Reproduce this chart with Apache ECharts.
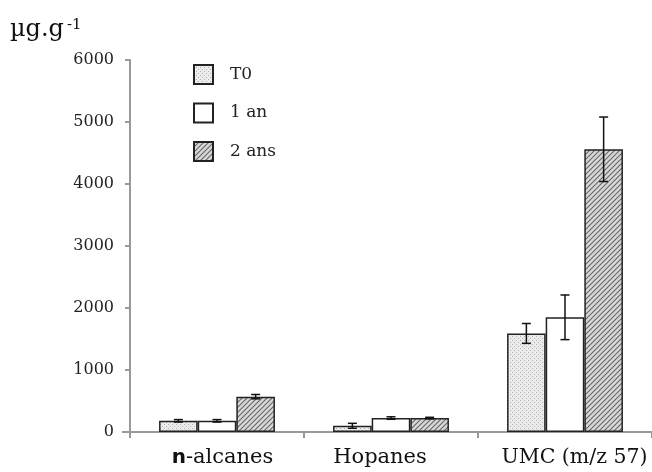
<!DOCTYPE html>
<html><head><meta charset="utf-8">
<script src="https://cdn.jsdelivr.net/npm/echarts@6/dist/echarts.min.js"></script>
<style>html,body{margin:0;padding:0;background:#fff}#c{width:652px;height:472px}</style>
</head><body><div id="c"></div>
<script>
var categories = ['n-alcanes', 'Hopanes', 'UMC (m/z 57)'];
var seriesNames = ['T0', '1 an', '2 ans'];
var valuesT0 = [180, 100, 1590];
var values1an = [180, 225, 1850];
var values2ans = [570, 225, 4560];
var errT0 = [20, 40, 160];
var err1an = [20, 20, 360];
var err2ans = [35, 12, 520];
var yTicks = [0, 1000, 2000, 3000, 4000, 5000, 6000];

function dotPattern() {
  var c = document.createElement('canvas'); c.width = 4; c.height = 4;
  var g = c.getContext('2d');
  g.fillStyle = '#ececec'; g.fillRect(0, 0, 4, 4);
  g.fillStyle = '#b0b0b0'; g.fillRect(0, 0, 1, 1); g.fillRect(2, 2, 1, 1);
  return c;
}
function hatchPattern() {
  var s = 5;
  var c = document.createElement('canvas'); c.width = s; c.height = s;
  var g = c.getContext('2d');
  g.fillStyle = '#d8d8d8'; g.fillRect(0, 0, s, s);
  g.strokeStyle = '#666'; g.lineWidth = 1.1;
  g.beginPath();
  g.moveTo(0, s); g.lineTo(s, 0);
  g.moveTo(-1, 1); g.lineTo(1, -1);
  g.moveTo(s - 1, s + 1); g.lineTo(s + 1, s - 1);
  g.stroke();
  return c;
}
var colors = [
  { image: dotPattern(), repeat: 'repeat' },
  '#ffffff',
  { image: hatchPattern(), repeat: 'repeat' }
];
var vals = [valuesT0, values1an, values2ans];
var errs = [errT0, err1an, err2ans];
var BW = 0.222;
var font = 'DejaVu Serif';

var series = [];
seriesNames.forEach(function (n, i) {
  series.push({
    name: n, type: 'bar', data: vals[i], barWidth: (BW * 100) + '%', barGap: '0%',
    itemStyle: { color: colors[i], borderColor: '#222', borderWidth: 1.5 }
  });
});
seriesNames.forEach(function (n, i) {
  series.push({
    type: 'custom', silent: true, z: 10,
    data: vals[i].map(function (v, k) { return [k, v - errs[i][k], v + errs[i][k]]; }),
    renderItem: function (params, api) {
      var k = api.value(0);
      var band = api.size([1, 0])[0];
      var lo = api.coord([k, api.value(1)]);
      var hi = api.coord([k, api.value(2)]);
      var x = lo[0] + (i - 1) * band * BW;
      var cap = 4.5;
      var st = { stroke: '#111', lineWidth: 1.5 };
      return { type: 'group', children: [
        { type: 'line', shape: { x1: x, y1: lo[1], x2: x, y2: hi[1] }, style: st },
        { type: 'line', shape: { x1: x - cap, y1: lo[1], x2: x + cap, y2: lo[1] }, style: st },
        { type: 'line', shape: { x1: x - cap, y1: hi[1], x2: x + cap, y2: hi[1] }, style: st }
      ]};
    }
  });
});

var labelStyleKeys = ['a', 'b', 'c'];
var chart = echarts.init(document.getElementById('c'));
chart.setOption({
  animation: false,
  textStyle: { fontFamily: font },
  grid: { left: 130, top: 60, width: 525, bottom: 40 },
  legend: {
    data: seriesNames, orient: 'vertical', left: 188, top: 59,
    itemWidth: 19, itemHeight: 19, itemGap: 17.5, icon: 'rect',
    textStyle: { fontFamily: font, fontSize: 17, lineHeight: 19, color: '#222', padding: [0, 0, 0, 12] }
  },
  xAxis: {
    type: 'category', data: categories,
    axisLine: { lineStyle: { color: '#999', width: 2 } },
    axisTick: { show: true, interval: 0, length: 6, lineStyle: { color: '#999', width: 2 } },
    axisLabel: {
      interval: 0, hideOverlap: false,
      margin: 15, fontSize: 21, color: '#111', fontFamily: font,
      formatter: function (v, idx) {
        var k = labelStyleKeys[idx];
        if (v === 'n-alcanes') return '{an|n}{' + k + '|-alcanes}';
        return '{' + k + '|' + v + '}';
      },
      rich: {
        an: { fontFamily: 'DejaVu Sans', fontSize: 20, fontWeight: 'bold', color: '#111', padding: [0, 0, 0, 11] },
        a: { fontFamily: font, fontSize: 21, color: '#111' },
        b: { fontFamily: font, fontSize: 21, color: '#111', padding: [0, 22, 0, 0] },
        c: { fontFamily: font, fontSize: 20.5, color: '#111', padding: [0, 0, 0, 19] }
      }
    }
  },
  yAxis: {
    type: 'value', min: yTicks[0], max: yTicks[yTicks.length - 1], interval: 1000,
    splitLine: { show: false },
    axisLine: { show: true, lineStyle: { color: '#999', width: 2 } },
    axisTick: { show: true, length: 5, lineStyle: { color: '#999', width: 2 } },
    axisLabel: { fontSize: 16, color: '#222', margin: 16, fontFamily: font, formatter: function (v) { return String(v); } }
  },
  graphic: [
    { type: 'line', shape: { x1: 122, y1: 432, x2: 131, y2: 432 }, style: { stroke: '#999', lineWidth: 2 } },
    { type: 'text', x: 10, y: 30, style: { text: 'µg.g', fontFamily: font, fontSize: 24, fill: '#111', verticalAlign: 'middle' } },
    { type: 'text', x: 67, y: 25, style: { text: '-1', fontFamily: font, fontSize: 15, fill: '#111', verticalAlign: 'middle' } }
  ],
  series: series
});
</script></body></html>
